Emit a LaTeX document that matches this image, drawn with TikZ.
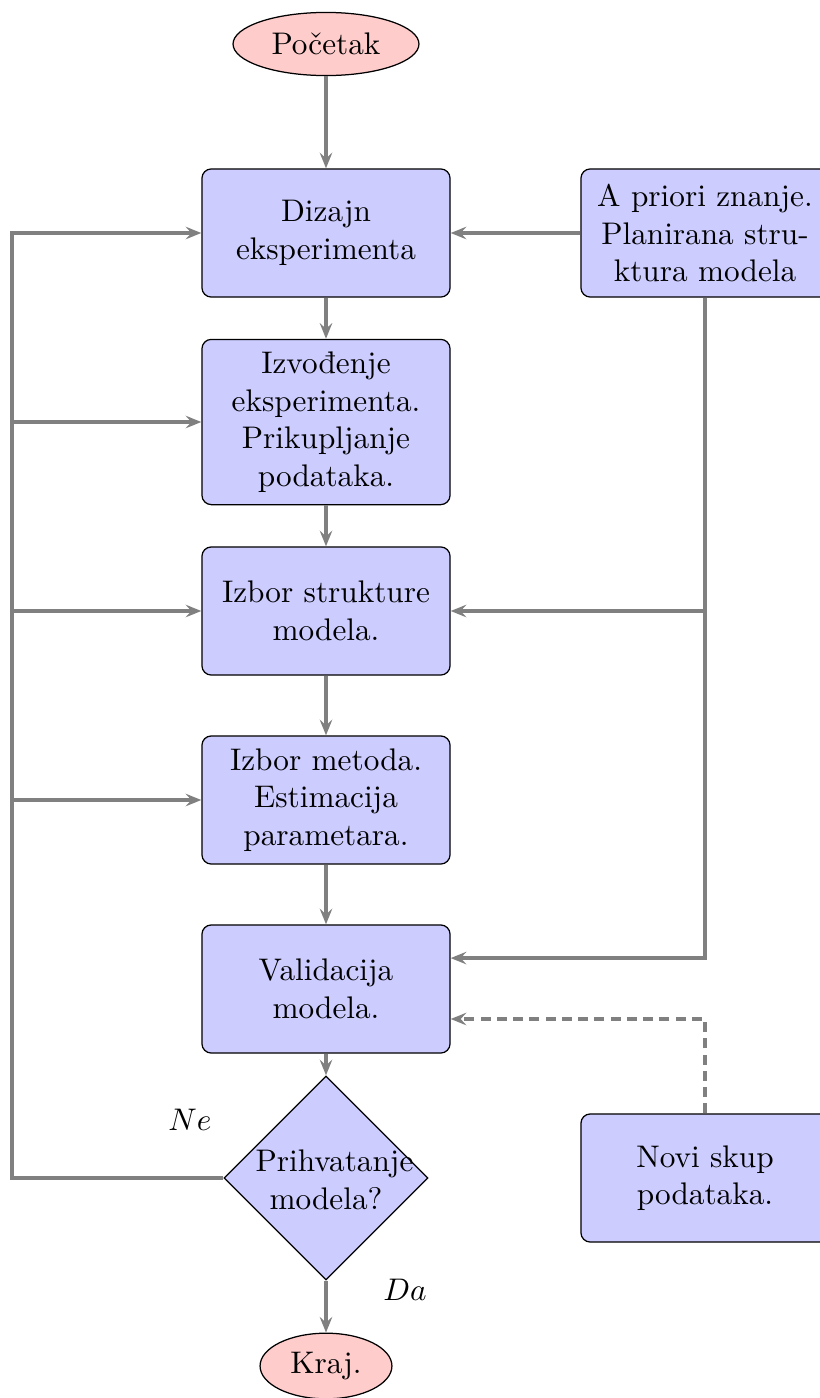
\documentclass[tikz,border=0pt]{standalone}
\usepackage{fontspec}
\usetikzlibrary{shapes.geometric,arrows.meta}
\begin{document}
\begin{tikzpicture}[x=0.32pt,y=-0.32pt,
  block/.style={draw, fill=blue!20, rounded corners=3pt, align=center,
    text width=71pt, inner xsep=4.2pt, inner ysep=4pt, minimum height=41pt},
  term/.style={draw, fill=red!20, ellipse, inner sep=0pt},
  decision/.style={draw, fill=blue!20, diamond, inner sep=0pt,
    minimum width=65.3pt, minimum height=65.3pt},
  flow/.style={draw=gray, line width=1.15pt,
    -{Stealth[length=5pt,width=4pt,inset=1.8pt]}},
  dflow/.style={flow, dash pattern=on 3.2pt off 2pt},
  lbl/.style={inner sep=0pt}]
\useasboundingbox (0,0) rectangle (819,1398);

% terminals
\node[term, minimum width=59.5pt, minimum height=20.2pt] (start) at (326,44) {Početak};
\node[term, minimum width=42.2pt, minimum height=21pt] (end) at (326,1366) {Kraj.};

% main column
\node[block] (diz) at (326,233) {Dizajn\\eksperimenta};
\node[block] (izv) at (326,422) {Izvođenje\\eksperimenta.\\Prikupljanje\\podataka.};
\node[block] (str) at (326,611) {Izbor strukture\\modela.};
\node[block] (met) at (326,800) {Izbor metoda.\\Estimacija\\parametara.};
\node[block] (val) at (326,989) {Validacija\\modela.};
\node[decision] (dec) at (326,1178) {};
\node[lbl, text width=45pt, align=center] (dectext) at (326,1180) {Prihvatanje\\modela?};

% side column
\node[block] (apr) at (705,233) {A priori znanje.\\Planirana stru-\\ktura modela};
\node[block] (novi) at (705,1178) {Novi skup\\podataka.};

% branch labels
\node[lbl] (ne) at (190,1120) {$Ne$};
\node[lbl] (da) at (405,1290) {$Da$};

% turning points of the feedback lines
\coordinate (L) at (12,0);
\coordinate (R) at (705,0);
\coordinate (vin) at ([yshift=9.9pt]val.east);
\coordinate (vnew) at ([yshift=-9.6pt]val.east);

% main flow
\draw[flow] (start) -- (diz);
\draw[flow] (diz) -- (izv);
\draw[flow] (izv) -- (str);
\draw[flow] (str) -- (met);
\draw[flow] (met) -- (val);
\draw[flow] (val) -- (dec);
\draw[flow] (dec) -- (end);

% rejection loop back to the earlier steps
\draw[flow] (dec.west) -- (L |- dec.west) -- (L |- diz.west) -- (diz.west);
\draw[flow] (L |- izv.west) -- (izv.west);
\draw[flow] (L |- str.west) -- (str.west);
\draw[flow] (L |- met.west) -- (met.west);

% prior knowledge
\draw[flow] (apr.west) -- (diz.east);
\draw[flow] (apr.south) -- (R |- vin) -- (vin);
\draw[flow] (R |- str.east) -- (str.east);

% new data set
\draw[dflow] (novi.north) -- (R |- vnew) -- (vnew);
\end{tikzpicture}
\end{document}
